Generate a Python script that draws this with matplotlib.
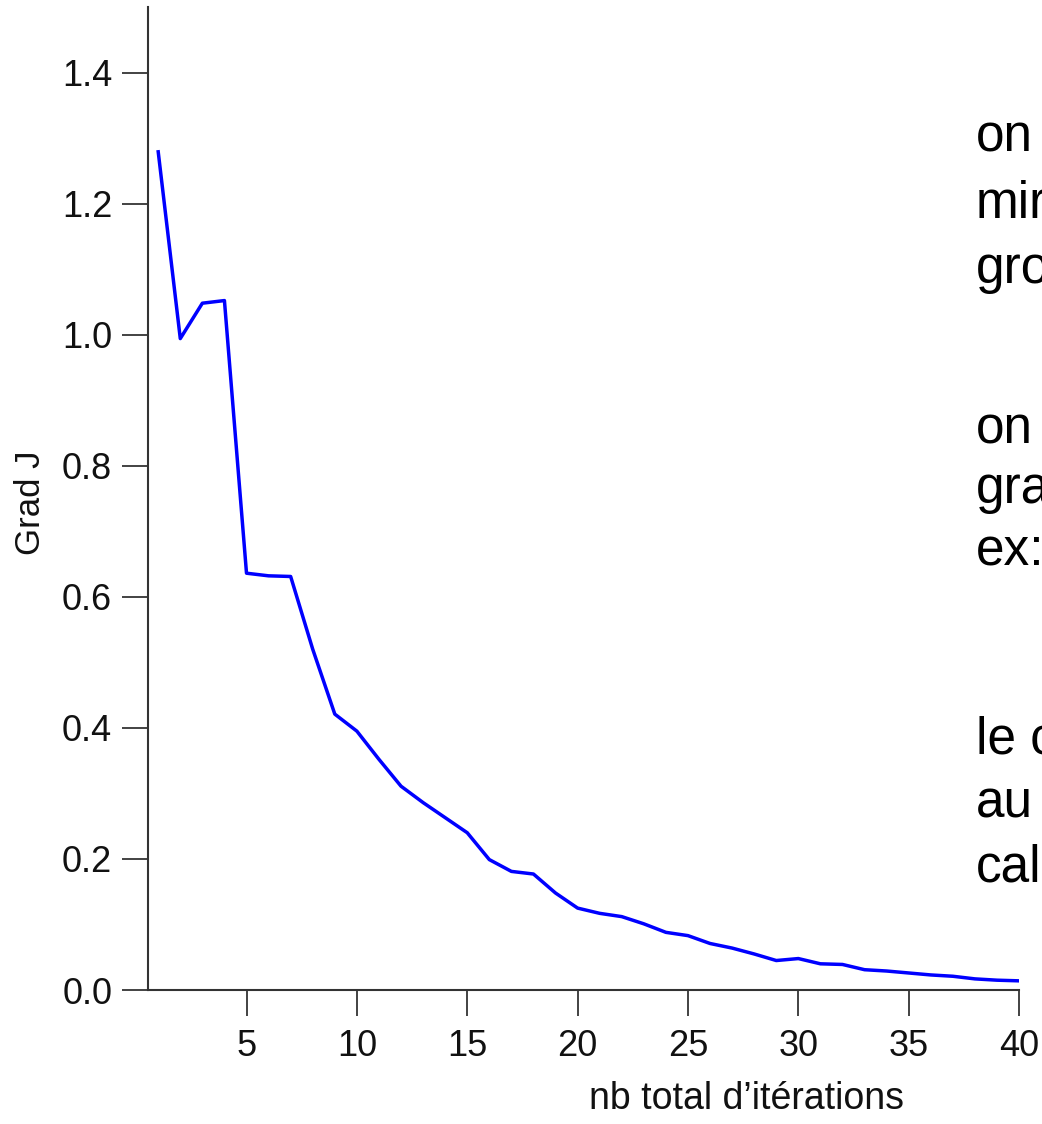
import matplotlib
matplotlib.use("Agg")
import matplotlib.pyplot as plt

# values
iterations = list(range(1, 41))
grad_j = [1.279, 0.994, 1.048, 1.052, 0.636, 0.632, 0.631, 0.520, 0.421, 0.395,
          0.352, 0.311, 0.286, 0.263, 0.240, 0.199, 0.181, 0.177, 0.148, 0.125,
          0.117, 0.112, 0.101, 0.088, 0.083, 0.071, 0.064, 0.055, 0.045, 0.048,
          0.040, 0.039, 0.031, 0.029, 0.026, 0.023, 0.021, 0.017, 0.015, 0.014]
x_ticks = [5, 10, 15, 20, 25, 30, 35, 40]
y_ticks = [0.0, 0.2, 0.4, 0.6, 0.8, 1.0, 1.2, 1.4]

# slide text cut off at the right edge
side_lines = ["on", "mir", "gro", "on", "gra", "ex:", "le c", "au", "cal"]
side_baselines = [151, 218, 283, 443, 503, 565, 753, 818, 881]


def main():
    plt.rcParams['font.family'] = ['Liberation Sans', 'DejaVu Sans']

    fig = plt.figure(figsize=(10.42, 11.24), dpi=100)
    ax = fig.add_axes([0.1423, 0.1192, 0.978 - 0.1423, 0.9938 - 0.1192])

    ax.plot(iterations, grad_j, color="#0000ff", linewidth=2.5)

    ax.set_xlim(0.55, 40)
    ax.set_ylim(0, 1.5)
    ax.set_xticks(x_ticks)
    ax.set_yticks(y_ticks)
    ax.set_yticklabels(["%.1f" % v for v in y_ticks])

    for side in ["top", "right"]:
        ax.spines[side].set_visible(False)
    for side in ["left", "bottom"]:
        ax.spines[side].set_color("#333333")
        ax.spines[side].set_linewidth(1.5)

    ax.tick_params(axis="both", direction="out", length=19, width=1.2,
                   color="#222222", labelsize=26, labelcolor="#111111")
    ax.tick_params(axis="x", pad=9)
    ax.tick_params(axis="y", pad=7)

    ax.set_xlabel("nb total d\u2019itérations", fontsize=27, color="#111111")
    ax.xaxis.set_label_coords(0.687, -0.093)
    ax.set_ylabel("Grad J", fontsize=25, color="#111111")
    ax.yaxis.set_label_coords(-0.116, 0.496)

    h = 1124.0
    for txt, base in zip(side_lines, side_baselines):
        fig.text(976 / 1042.0, 1 - base / h, txt, fontsize=37, color="black",
                 ha="left", va="baseline")

    fig.savefig("out.png", dpi=100)


if __name__ == '__main__':
    main()
